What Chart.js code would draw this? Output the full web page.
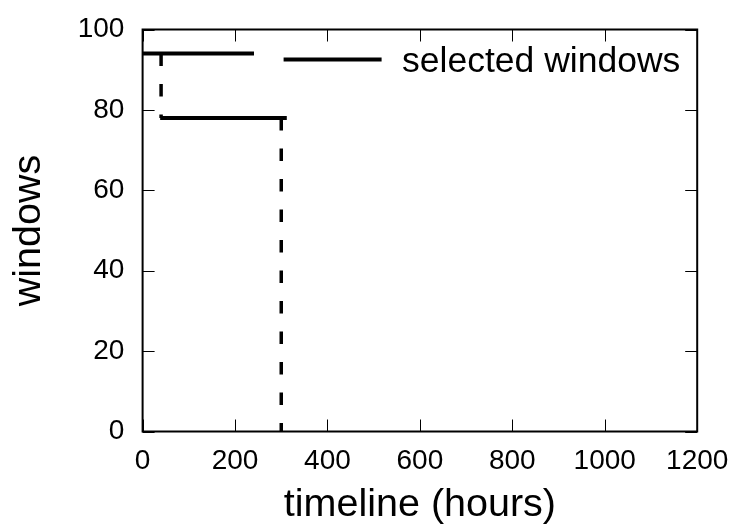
<!DOCTYPE html>
<html>
<head>
<meta charset="utf-8">
<script src="https://cdn.jsdelivr.net/npm/chart.js@4"></script>
<style>
  html, body { margin: 0; padding: 0; background: #ffffff; }
  canvas { display: block; }
</style>
</head>
<body>
<canvas id="c" width="750" height="525"></canvas>
<script>
// ---- data ----
const seriesLabel = "selected windows";
const windowStart = [0, 38];
const windowEnd = [241, 312];
const windowLevel = [94, 78];
const dropX = [40, 300];
const dropTop = [94, 78];
const dropBottom = [78, 0];
const xTicks = [0, 200, 400, 600, 800, 1000, 1200];
const yTicks = [0, 20, 40, 60, 80, 100];
const xTitle = "timeline (hours)";
const yTitle = "windows";

// build line data with gaps between segments
const solidData = [];
windowStart.forEach((s, i) => {
  if (i > 0) solidData.push({ x: s, y: null });
  solidData.push({ x: s, y: windowLevel[i] });
  solidData.push({ x: windowEnd[i], y: windowLevel[i] });
});
const dashData = [];
dropX.forEach((x, i) => {
  if (i > 0) dashData.push({ x: x, y: null });
  dashData.push({ x: x, y: dropTop[i] });
  dashData.push({ x: x, y: dropBottom[i] });
});

const FONT = "'Liberation Sans', Arial, Helvetica, sans-serif";

const framePlugin = {
  id: 'frame',
  afterDatasetsDraw(chart) {
    const { ctx, chartArea: a, scales } = chart;
    ctx.save();
    ctx.strokeStyle = '#000';
    ctx.lineWidth = 1;
    const tl = 12;
    scales.x.ticks.forEach(t => {
      const p = Math.round(scales.x.getPixelForValue(t.value)) + 0.5;
      ctx.beginPath();
      ctx.moveTo(p, a.bottom); ctx.lineTo(p, a.bottom - tl);
      ctx.moveTo(p, a.top); ctx.lineTo(p, a.top + tl);
      ctx.stroke();
    });
    scales.y.ticks.forEach(t => {
      const p = Math.round(scales.y.getPixelForValue(t.value)) + 0.5;
      ctx.beginPath();
      ctx.moveTo(a.left, p); ctx.lineTo(a.left + tl, p);
      ctx.moveTo(a.right, p); ctx.lineTo(a.right - tl, p);
      ctx.stroke();
    });
    ctx.lineWidth = 2;
    ctx.strokeRect(a.left, a.top, a.right - a.left, a.bottom - a.top);

    // legend (gnuplot style, inside top of plot)
    const ds = chart.data.datasets[0];
    const ly = a.top + 30;
    ctx.strokeStyle = ds.borderColor;
    ctx.lineWidth = ds.borderWidth;
    ctx.lineCap = 'butt';
    ctx.beginPath();
    ctx.moveTo(a.left + 141, ly);
    ctx.lineTo(a.left + 239, ly);
    ctx.stroke();
    ctx.fillStyle = '#000';
    ctx.font = "35.5px " + FONT;
    ctx.textAlign = 'left';
    ctx.textBaseline = 'alphabetic';
    ctx.fillText(ds.label, a.left + 259.5, a.top + 42);
    ctx.restore();
  }
};

new Chart(document.getElementById('c'), {
  type: 'scatter',
  data: {
    datasets: [
      {
        label: seriesLabel,
        data: solidData,
        showLine: true,
        borderColor: '#000',
        borderWidth: 4,
        pointRadius: 0,
        borderCapStyle: 'butt',
        spanGaps: false
      },
      {
        label: 'drop',
        data: dashData,
        showLine: true,
        borderColor: '#000',
        borderWidth: 3.5,
        borderDash: [12.5, 18],
        pointRadius: 0,
        borderCapStyle: 'butt',
        spanGaps: false
      }
    ]
  },
  options: {
    responsive: false,
    animation: false,
    layout: { padding: { top: 29.5, right: 52.8, left: 0, bottom: 0 } },
    plugins: { legend: { display: false }, tooltip: { enabled: false } },
    scales: {
      x: {
        type: 'linear',
        min: 0, max: 1200,
        afterBuildTicks: s => { s.ticks = xTicks.map(v => ({ value: v })); },
        afterFit: s => { s.height = 93.5; },
        grid: { display: false, drawTicks: false },
        border: { display: false },
        ticks: { color: '#000', font: { family: FONT, size: 28 }, padding: 12.8, maxRotation: 0, autoSkip: false,
                 callback: v => String(v) },
        title: { display: true, text: xTitle, color: '#000', font: { family: FONT, size: 39.5, lineHeight: 1 }, padding: { top: 0, bottom: 0.5 } }
      },
      y: {
        type: 'linear',
        min: 0, max: 100,
        afterBuildTicks: s => { s.ticks = yTicks.map(v => ({ value: v })); },
        afterFit: s => { s.width = 142.6; },
        grid: { display: false, drawTicks: false },
        border: { display: false },
        ticks: { color: '#000', font: { family: FONT, size: 28, lineHeight: 0.3 }, padding: 18.2, autoSkip: false,
                 callback: v => String(v) },
        title: { display: true, text: yTitle, color: '#000', font: { family: FONT, size: 39.5, lineHeight: 1 }, padding: { top: 9.5, bottom: 0 } }
      }
    }
  },
  plugins: [framePlugin]
});
</script>
</body>
</html>
